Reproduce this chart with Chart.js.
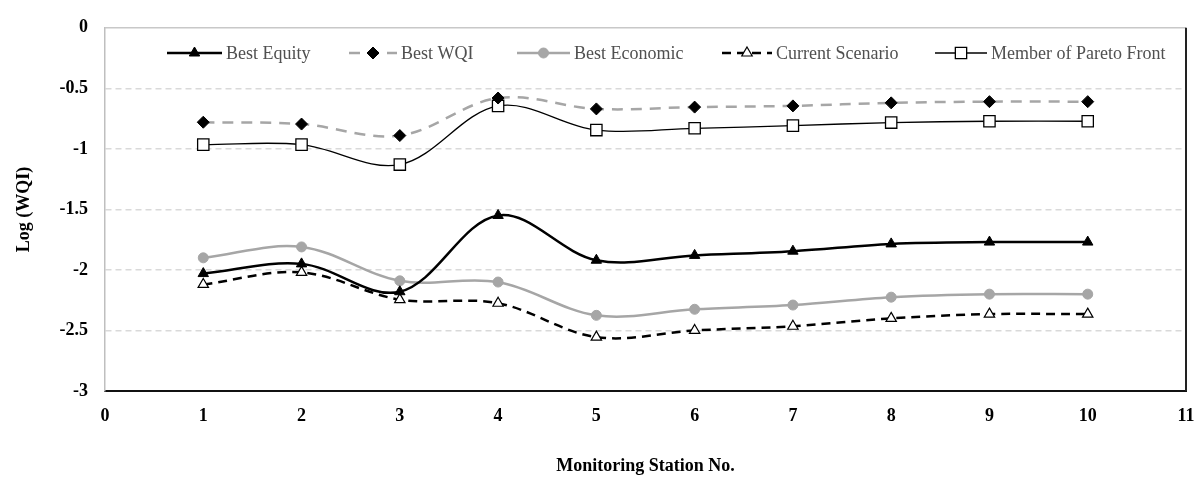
<!DOCTYPE html>
<html>
<head>
<meta charset="utf-8">
<script src="https://cdn.jsdelivr.net/npm/chart.js@4.4.1/dist/chart.umd.min.js"></script>
<style>
  html, body { margin: 0; padding: 0; background: #fff; }
  #wrap { width: 1199px; height: 479px; }
</style>
</head>
<body>
<div id="wrap"><canvas id="chartWqi" width="1199" height="479"></canvas></div>
<script>
// valores
const stations = [1, 2, 3, 4, 5, 6, 7, 8, 9, 10];
const bestEquity = [-2.03, -1.95, -2.18, -1.55, -1.92, -1.88, -1.845, -1.785, -1.77, -1.77];
const bestWqi = [-0.78, -0.795, -0.89, -0.58, -0.67, -0.655, -0.645, -0.62, -0.61, -0.61];
const bestEconomic = [-1.9, -1.81, -2.09, -2.1, -2.375, -2.325, -2.29, -2.225, -2.2, -2.2];
const currentScenario = [-2.12, -2.02, -2.245, -2.275, -2.555, -2.5, -2.465, -2.4, -2.365, -2.365];
const paretoMember = [-0.965, -0.965, -1.13, -0.645, -0.845, -0.83, -0.808, -0.783, -0.772, -0.772];

const seriesNames = ["Best Equity", "Best WQI", "Best Economic", "Current Scenario", "Member of Pareto Front"];
const xTicks = [0, 1, 2, 3, 4, 5, 6, 7, 8, 9, 10, 11];
const yTicks = [0, -0.5, -1, -1.5, -2, -2.5, -3];

const GRAY = "#a6a6a6";
const SERIF = "'Liberation Serif', 'Times New Roman', serif";

function pts(vals) {
  return vals.map((v, i) => ({ x: stations[i], y: v }));
}

function drawMarker(ctx, style, x, y, r, fill, stroke, lw) {
  ctx.save();
  ctx.beginPath();
  if (style === "triangle") {
    ctx.moveTo(x, y - r);
    ctx.lineTo(x + r * 0.87, y + r * 0.5);
    ctx.lineTo(x - r * 0.87, y + r * 0.5);
    ctx.closePath();
  } else if (style === "rectRot") {
    ctx.moveTo(x, y - r);
    ctx.lineTo(x + r, y);
    ctx.lineTo(x, y + r);
    ctx.lineTo(x - r, y);
    ctx.closePath();
  } else if (style === "rect") {
    const s = r * Math.SQRT1_2;
    ctx.rect(x - s, y - s, s * 2, s * 2);
  } else {
    ctx.arc(x, y, r, 0, Math.PI * 2);
  }
  ctx.fillStyle = fill;
  ctx.fill();
  if (stroke) {
    ctx.lineWidth = lw || 1;
    ctx.strokeStyle = stroke;
    ctx.stroke();
  }
  ctx.restore();
}

// contorno da area do grafico (topo cinza, direita escura)
const plotBorder = {
  id: "plotBorder",
  beforeDatasetsDraw(chart) {
    const { ctx, chartArea: a } = chart;
    ctx.save();
    ctx.strokeStyle = "#c8c8c8";
    ctx.lineWidth = 1.5;
    ctx.beginPath();
    ctx.moveTo(a.left, a.top);
    ctx.lineTo(a.right, a.top);
    ctx.stroke();
    ctx.strokeStyle = "#222";
    ctx.lineWidth = 2;
    ctx.beginPath();
    ctx.moveTo(a.right, a.top);
    ctx.lineTo(a.right, a.bottom);
    ctx.stroke();
    ctx.restore();
  }
};

// legenda dentro da area, com linha + marcador como no Excel
const innerLegend = {
  id: "innerLegend",
  afterDatasetsDraw(chart) {
    const { ctx } = chart;
    const y = 53;
    const starts = [167, 349, 517, 722, 935];
    const lens = [55, 48, 53, 50, 52];
    ctx.save();
    ctx.font = "18px " + SERIF;
    ctx.textBaseline = "middle";
    chart.data.datasets.forEach((ds, i) => {
      const x0 = starts[i];
      const x1 = x0 + lens[i];
      ctx.save();
      ctx.strokeStyle = ds.borderColor;
      ctx.lineWidth = ds.borderWidth;
      ctx.setLineDash(ds.borderDash || []);
      ctx.beginPath();
      ctx.moveTo(x0, y);
      ctx.lineTo(x1, y);
      ctx.stroke();
      ctx.restore();
      drawMarker(ctx, ds.pointStyle, (x0 + x1) / 2, y, ds.pointRadius,
        ds.pointBackgroundColor, ds.pointBorderColor, ds.pointBorderWidth);
      ctx.fillStyle = "#505050";
      ctx.fillText(ds.label, x1 + 4, y + 1);
    });
    ctx.restore();
  }
};

const ctx = document.getElementById("chartWqi");
new Chart(ctx, {
  type: "line",
  data: {
    datasets: [
      {
        label: seriesNames[0], data: pts(bestEquity),
        borderColor: "#000", borderWidth: 2.5, tension: 0.35,
        pointStyle: "triangle", pointRadius: 6,
        pointBackgroundColor: "#000", pointBorderColor: "#000", pointBorderWidth: 1
      },
      {
        label: seriesNames[1], data: pts(bestWqi),
        borderColor: GRAY, borderWidth: 2.5, borderDash: [11, 8], tension: 0.35,
        pointStyle: "rectRot", pointRadius: 6,
        pointBackgroundColor: "#000", pointBorderColor: "#000", pointBorderWidth: 1
      },
      {
        label: seriesNames[2], data: pts(bestEconomic),
        borderColor: GRAY, borderWidth: 2.5, tension: 0.35,
        pointStyle: "circle", pointRadius: 5,
        pointBackgroundColor: GRAY, pointBorderColor: GRAY, pointBorderWidth: 1
      },
      {
        label: seriesNames[3], data: pts(currentScenario),
        borderColor: "#000", borderWidth: 2.5, borderDash: [9, 6], tension: 0.35,
        pointStyle: "triangle", pointRadius: 6,
        pointBackgroundColor: "#fff", pointBorderColor: "#000", pointBorderWidth: 1.2
      },
      {
        label: seriesNames[4], data: pts(paretoMember),
        borderColor: "#000", borderWidth: 1.3, tension: 0.35,
        pointStyle: "rect", pointRadius: 8,
        pointBackgroundColor: "#fff", pointBorderColor: "#000", pointBorderWidth: 1.3
      }
    ]
  },
  options: {
    responsive: false,
    animation: false,
    layout: { padding: { top: 21, right: 0, left: 0, bottom: 0 } },
    plugins: {
      legend: { display: false },
      tooltip: { enabled: false }
    },
    scales: {
      x: {
        type: "linear",
        min: 0, max: 11,
        afterBuildTicks: s => { s.ticks = xTicks.map(v => ({ value: v })); },
        afterFit: s => { s.height = 88; s.paddingRight = 13; },
        grid: { display: false, drawTicks: false },
        border: { display: true, color: "#111", width: 2 },
        ticks: {
          padding: 15,
          color: "#000",
          callback: v => String(v),
          font: { family: SERIF, size: 18, weight: "bold" }
        },
        title: {
          display: true,
          text: "Monitoring Station No.",
          color: "#000",
          padding: 2,
          font: { family: SERIF, size: 18, weight: "bold" }
        }
      },
      y: {
        min: -3, max: 0,
        afterBuildTicks: s => { s.ticks = yTicks.map(v => ({ value: v })); },
        afterFit: s => { s.width = 105; },
        grid: {
          drawTicks: false,
          color: c => (c.tick.value === 0 || c.tick.value === -3) ? "rgba(0,0,0,0)" : "#d9d9d9",
          lineWidth: 1.5
        },
        border: { display: true, color: "#bfbfbf", width: 1.5, dash: [6, 4] },
        ticks: {
          padding: 17,
          color: "#000",
          callback: v => String(v),
          font: { family: SERIF, size: 18, weight: "bold" }
        },
        title: {
          display: true,
          text: "Log (WQI)",
          color: "#000",
          padding: 14,
          font: { family: SERIF, size: 18, weight: "bold" }
        }
      }
    }
  },
  plugins: [plotBorder, innerLegend]
});
</script>
</body>
</html>
